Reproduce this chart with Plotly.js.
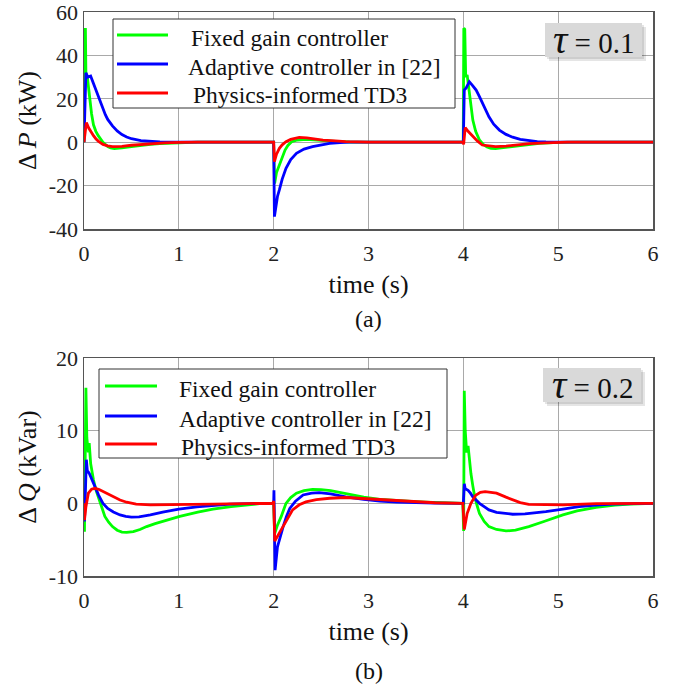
<!DOCTYPE html>
<html>
<head>
<meta charset="utf-8">
<script src="https://cdn.plot.ly/plotly-3.0.1.min.js"></script>
<style>html,body{margin:0;padding:0;background:#fff;}#chart{width:688px;height:692px;}</style>
</head>
<body>
<div id="chart"></div>
<script>
// ---------- data ----------
const seriesNames = ["Fixed gain controller", "Adaptive controller in [22]", "Physics-informed TD3"];
const seriesColors = ["#00ff00", "#0000ff", "#ff0000"];

// (a) ΔP (kW)
const tP_fixed = [0, 0.005, 0.015, 0.02, 0.035, 0.05, 0.06, 0.08, 0.1, 0.125, 0.15, 0.175, 0.2, 0.25, 0.28, 0.32, 0.36, 0.4, 0.5, 0.6, 0.7, 0.8, 0.9, 1.05, 1.2,
  1.999, 2.005, 2.01, 2.03, 2.06, 2.09, 2.12, 2.15, 2.19, 2.25, 2.34, 2.42, 2.5, 2.65, 2.8, 3.0,
  3.999, 4.005, 4.015, 4.025, 4.04, 4.055, 4.07, 4.085, 4.1, 4.13, 4.17, 4.21, 4.25, 4.29, 4.34, 4.4, 4.52, 4.65, 4.8, 5.0, 5.2, 6.0];
const dP_fixed = [0, 52, 52, 32, 30, 24, 20, 13, 8, 5, 3, 1.3, 0, -2, -2.6, -2.9, -2.9, -2.6, -2, -1.4, -1, -0.65, -0.4, -0.15, 0,
  0, -19, -19, -14, -10.5, -6.5, -3.6, -1.5, 0.2, 1.0, 1.3, 1.1, 0.8, 0.35, 0.1, 0,
  0, 52.5, 52, 30, 31, 26, 21, 15, 10.2, 5, 1, -1, -2.2, -2.8, -2.9, -2.6, -2, -1.2, -0.5, -0.1, 0, 0];

const tP_adapt = [0, 0.01, 0.02, 0.04, 0.07, 0.1, 0.125, 0.15, 0.175, 0.2, 0.225, 0.25, 0.3, 0.35, 0.4, 0.45, 0.5, 0.6, 0.7, 0.8, 1.0,
  2.0, 2.008, 2.02, 2.04, 2.06, 2.09, 2.13, 2.18, 2.24, 2.32, 2.41, 2.5, 2.59, 2.7, 2.8,
  4.0, 4.01, 4.03, 4.063, 4.1, 4.135, 4.17, 4.22, 4.27, 4.32, 4.38, 4.45, 4.52, 4.6, 4.69, 4.78, 4.87, 5.0, 6.0];
const dP_adapt = [0, 25, 32, 30, 30.5, 27, 24, 21, 18, 15, 12.7, 10.5, 7.5, 5.2, 3.5, 2.4, 1.6, 0.7, 0.3, 0.1, 0,
  0, -34.3, -30, -25, -22, -17, -12, -8, -5.1, -3.2, -2, -1.1, -0.5, -0.2, 0,
  0, 24, 25, 27.9, 26, 24, 21, 16, 11.7, 8.3, 5.6, 3.6, 2.3, 1.3, 0.7, 0.3, 0.1, 0, 0];

const tP_td3 = [0, 0.01, 0.025, 0.05, 0.075, 0.1, 0.125, 0.15, 0.2, 0.25, 0.3, 0.35, 0.4, 0.5, 0.6, 0.7, 0.85, 1.0, 1.2,
  2.0, 2.008, 2.03, 2.06, 2.09, 2.13, 2.18, 2.27, 2.35, 2.45, 2.52, 2.65, 2.76, 3.0,
  3.995, 4.003, 4.02, 4.05, 4.075, 4.1, 4.15, 4.2, 4.27, 4.34, 4.45, 4.55, 4.7, 4.87, 5.1, 6.0];
const dP_td3 = [0, 5, 9, 6.5, 4.5, 3, 1.6, 0.5, -1, -1.7, -2, -2.05, -1.9, -1.4, -1, -0.6, -0.3, -0.1, 0,
  0, -9, -5.5, -2.8, -1.2, 0.2, 1.3, 2.2, 2.0, 1.4, 1, 0.6, 0.3, 0,
  0, -1, 6.7, 5, 3.8, 2.6, 0.5, -1.3, -1.8, -2, -1.8, -1.3, -0.7, -0.3, 0, 0];

// (b) ΔQ (kVar)
const tQ_fixed = [0, 0.005, 0.02, 0.03, 0.045, 0.055, 0.07, 0.085, 0.1, 0.125, 0.15, 0.185, 0.22, 0.26, 0.3, 0.35, 0.4, 0.45, 0.52, 0.59, 0.66, 0.75, 0.85, 1.01, 1.2, 1.36, 1.55, 1.71, 1.85, 2.0,
  2.01, 2.04, 2.08, 2.13, 2.18, 2.24, 2.32, 2.41, 2.5, 2.6, 2.76, 2.95, 3.12, 3.3, 3.45, 3.6, 3.8, 3.995,
  4.003, 4.01, 4.02, 4.035, 4.05, 4.065, 4.08, 4.1, 4.12, 4.145, 4.17, 4.22, 4.27, 4.35, 4.45, 4.55, 4.69, 4.85, 5.05, 5.2, 5.4, 5.6, 5.76, 6.0];
const dQ_fixed = [0, -3.9, 15.9, 9, 7, 8.3, 5.5, 4.2, 3.2, 1.9, 0.9, -0.5, -1.8, -2.6, -3.2, -3.7, -3.95, -4.0, -3.9, -3.6, -3.2, -2.8, -2.4, -1.8, -1.2, -0.8, -0.45, -0.2, -0.05, 0,
  -4.2, -3, -1.8, 0, 0.8, 1.4, 1.75, 1.93, 1.9, 1.75, 1.3, 0.85, 0.55, 0.35, 0.25, 0.15, 0.05, 0,
  -3.8, 15.5, 10, 7, 7.9, 5.8, 4.1, 2.4, 0.9, -0.3, -1.4, -2.5, -3.2, -3.6, -3.8, -3.7, -3.2, -2.5, -1.6, -1.05, -0.55, -0.25, -0.1, 0];

const tQ_adapt = [0, 0.005, 0.025, 0.035, 0.056, 0.085, 0.116, 0.155, 0.2, 0.25, 0.31, 0.38, 0.44, 0.5, 0.58, 0.7, 0.83, 1.0, 1.19, 1.35, 1.54, 1.75, 2.0,
  2.003, 2.015, 2.04, 2.07, 2.1, 2.135, 2.17, 2.23, 2.31, 2.4, 2.48, 2.6, 2.76, 2.95, 3.12, 3.3, 3.45, 3.7, 4.0,
  4.01, 4.02, 4.05, 4.075, 4.1, 4.17, 4.22, 4.27, 4.35, 4.45, 4.52, 4.65, 4.75, 4.87, 5.05, 5.22, 5.4, 5.57, 5.8, 6.0];
const dQ_adapt = [0, -2.5, 6.0, 4.5, 4.1, 3.2, 2.3, 1.1, 0, -0.7, -1.2, -1.6, -1.8, -1.9, -1.85, -1.6, -1.2, -0.8, -0.5, -0.3, -0.1, -0.03, 0,
  1.8, -9.2, -6, -4.5, -3.2, -1.8, -0.7, 0.3, 1.15, 1.4, 1.47, 1.3, 0.9, 0.55, 0.3, 0.18, 0.1, 0.03, 0,
  2.7, 2.0, 1.8, 1.4, 0.9, 0, -0.5, -0.9, -1.25, -1.45, -1.5, -1.45, -1.35, -1.15, -0.8, -0.45, -0.25, -0.1, -0.03, 0];

const tQ_td3 = [0, 0.005, 0.02, 0.046, 0.08, 0.116, 0.16, 0.2, 0.24, 0.3, 0.38, 0.45, 0.55, 0.7, 0.83, 1.1, 1.36, 1.7, 1.99,
  2.0, 2.012, 2.05, 2.1, 2.15, 2.2, 2.27, 2.34, 2.45, 2.59, 2.76, 2.95, 3.12, 3.3, 3.45, 3.7, 3.995,
  4.01, 4.04, 4.08, 4.13, 4.18, 4.23, 4.3, 4.35, 4.45, 4.52, 4.6, 4.69, 4.85, 5.05, 5.4, 6.0];
const dQ_td3 = [0, -2.3, -0.5, 1.4, 1.95, 2.07, 1.9, 1.65, 1.4, 0.95, 0.45, 0.15, -0.1, -0.2, -0.2, -0.15, -0.1, -0.03, 0,
  0.3, -5.2, -4.3, -3.2, -2, -0.9, -0.2, 0.2, 0.5, 0.7, 0.8, 0.65, 0.45, 0.3, 0.2, 0.08, 0,
  -3.6, -1.4, 0, 1.1, 1.5, 1.6, 1.5, 1.4, 0.85, 0.45, 0.1, -0.15, -0.2, -0.2, -0.05, 0];

// tick labels
const xTicks = [0, 1, 2, 3, 4, 5, 6];
const xTickText = ["0", "1", "2", "3", "4", "5", "6"];
const yTicksP = [-40, -20, 0, 20, 40, 60];
const yTickTextP = ["-40", "-20", "0", "20", "40", "60"];
const yTicksQ = [-10, 0, 10, 20];
const yTickTextQ = ["-10", "0", "10", "20"];

const tauLabels = ["0.1", "0.2"];
const panelLabels = ["(a)", "(b)"];

// ---------- layout helpers ----------
const W = 688, H = 692;
const L = 84, R = 653, T = 12, B = 576;
const px = x => (x - L) / (R - L);
const py = y => (B - y) / (B - T);
const FONT = "'Liberation Serif', 'Times New Roman', 'DejaVu Serif', serif";

const P = [tP_fixed, tP_adapt, tP_td3];
const PV = [dP_fixed, dP_adapt, dP_td3];
const Q = [tQ_fixed, tQ_adapt, tQ_td3];
const QV = [dQ_fixed, dQ_adapt, dQ_td3];

const traces = [];
for (let i = 0; i < 3; i++) {
  traces.push({x: P[i], y: PV[i], xaxis: "x", yaxis: "y", type: "scatter", mode: "lines",
    name: seriesNames[i], line: {color: seriesColors[i], width: 2.8}, showlegend: false});
}
for (let i = 0; i < 3; i++) {
  traces.push({x: Q[i], y: QV[i], xaxis: "x2", yaxis: "y2", type: "scatter", mode: "lines",
    name: seriesNames[i], line: {color: seriesColors[i], width: 2.8}, showlegend: false});
}

const shapes = [];
const annotations = [];

function legend(x0, x1, y0, y1, rowsY, textY, lx0, lx1, tx) {
  shapes.push({type: "rect", xref: "paper", yref: "paper", x0: px(x0), x1: px(x1), y0: py(y1), y1: py(y0),
    fillcolor: "#ffffff", line: {color: "#333333", width: 1}, layer: "above"});
  for (let i = 0; i < 3; i++) {
    shapes.push({type: "line", xref: "paper", yref: "paper", x0: px(lx0), x1: px(lx1), y0: py(rowsY[i]), y1: py(rowsY[i]),
      line: {color: seriesColors[i], width: 3}, layer: "above"});
    annotations.push({xref: "paper", yref: "paper", x: px(tx[i]), y: py(textY[i]), xanchor: "left", yanchor: "middle",
      text: seriesNames[i], showarrow: false, font: {family: FONT, size: 23.5, color: "#111"}});
  }
}
legend(113, 455, 19, 108, [35, 64, 93], [38, 67, 95], 117, 168, [189, 186, 191]);
legend(99, 447, 369, 458, [386, 416, 444], [389, 419, 447], 105, 157, [177, 177, 179]);

function tauBox(x0, x1, y0, y1, label) {
  shapes.push({type: "rect", xref: "paper", yref: "paper", x0: px(x0 + 4), x1: px(x1 + 4), y0: py(y1 + 4), y1: py(y0 + 4),
    fillcolor: "rgba(0,0,0,0.10)", line: {width: 0}, layer: "above"});
  shapes.push({type: "rect", xref: "paper", yref: "paper", x0: px(x0 + 2), x1: px(x1 + 2), y0: py(y1 + 2), y1: py(y0 + 2),
    fillcolor: "rgba(0,0,0,0.10)", line: {width: 0}, layer: "above"});
  shapes.push({type: "rect", xref: "paper", yref: "paper", x0: px(x0), x1: px(x1), y0: py(y1), y1: py(y0),
    fillcolor: "#d9d9d9", line: {width: 0}, layer: "above"});
  annotations.push({xref: "paper", yref: "paper", x: px((x0 + x1) / 2), y: py((y0 + y1) / 2), xanchor: "center", yanchor: "middle",
    text: '<span style="font-size:40px"><i>τ</i></span> = ' + label, showarrow: false,
    font: {family: FONT, size: 29, color: "#111"}});
}
tauBox(545, 642, 23, 57, tauLabels[0]);
tauBox(543, 641, 368, 402, tauLabels[1]);

annotations.push({xref: "paper", yref: "paper", x: 0.5, y: py(319), xanchor: "center", yanchor: "middle",
  text: panelLabels[0], showarrow: false, font: {family: FONT, size: 24, color: "#111"}});
annotations.push({xref: "paper", yref: "paper", x: 0.5, y: py(671), xanchor: "center", yanchor: "middle",
  text: panelLabels[1], showarrow: false, font: {family: FONT, size: 24, color: "#111"}});

const axisCommon = {
  showline: true, mirror: true, linecolor: "#555555", linewidth: 1.5,
  showgrid: true, gridcolor: "#a9a9a9", gridwidth: 1, zeroline: false,
  ticks: "", tickfont: {family: FONT, size: 22, color: "#222"}, fixedrange: true,
  ticklabeloverflow: "allow"
};

const layout = {
  width: W, height: H,
  margin: {l: L, r: W - R, t: T, b: H - B},
  paper_bgcolor: "#ffffff", plot_bgcolor: "#ffffff",
  font: {family: FONT, color: "#111"},
  xaxis: Object.assign({}, axisCommon, {domain: [0, 1], anchor: "y", range: [0, 6], tickvals: xTicks, ticktext: xTickText,
    ticklabelstandoff: 4,
    title: {text: "time (s)", font: {family: FONT, size: 26, color: "#111"}, standoff: 10}}),
  yaxis: Object.assign({}, axisCommon, {domain: [py(229), 1], anchor: "x", range: [-40, 60], tickvals: yTicksP, ticktext: yTickTextP,
    title: {text: "Δ <i>P</i> (kW)", font: {family: FONT, size: 26, color: "#111"}, standoff: 4}}),
  xaxis2: Object.assign({}, axisCommon, {domain: [0, 1], anchor: "y2", range: [0, 6], tickvals: xTicks, ticktext: xTickText,
    ticklabelstandoff: 4,
    title: {text: "time (s)", font: {family: FONT, size: 26, color: "#111"}, standoff: 10}}),
  yaxis2: Object.assign({}, axisCommon, {domain: [0, py(358)], anchor: "x2", range: [-10, 20], tickvals: yTicksQ, ticktext: yTickTextQ,
    title: {text: "Δ <i>Q</i> (kVar)", font: {family: FONT, size: 26, color: "#111"}, standoff: 4}}),
  shapes: shapes,
  annotations: annotations,
  showlegend: false
};

Plotly.newPlot("chart", traces, layout, {displayModeBar: false, staticPlot: true});
</script>
</body>
</html>
